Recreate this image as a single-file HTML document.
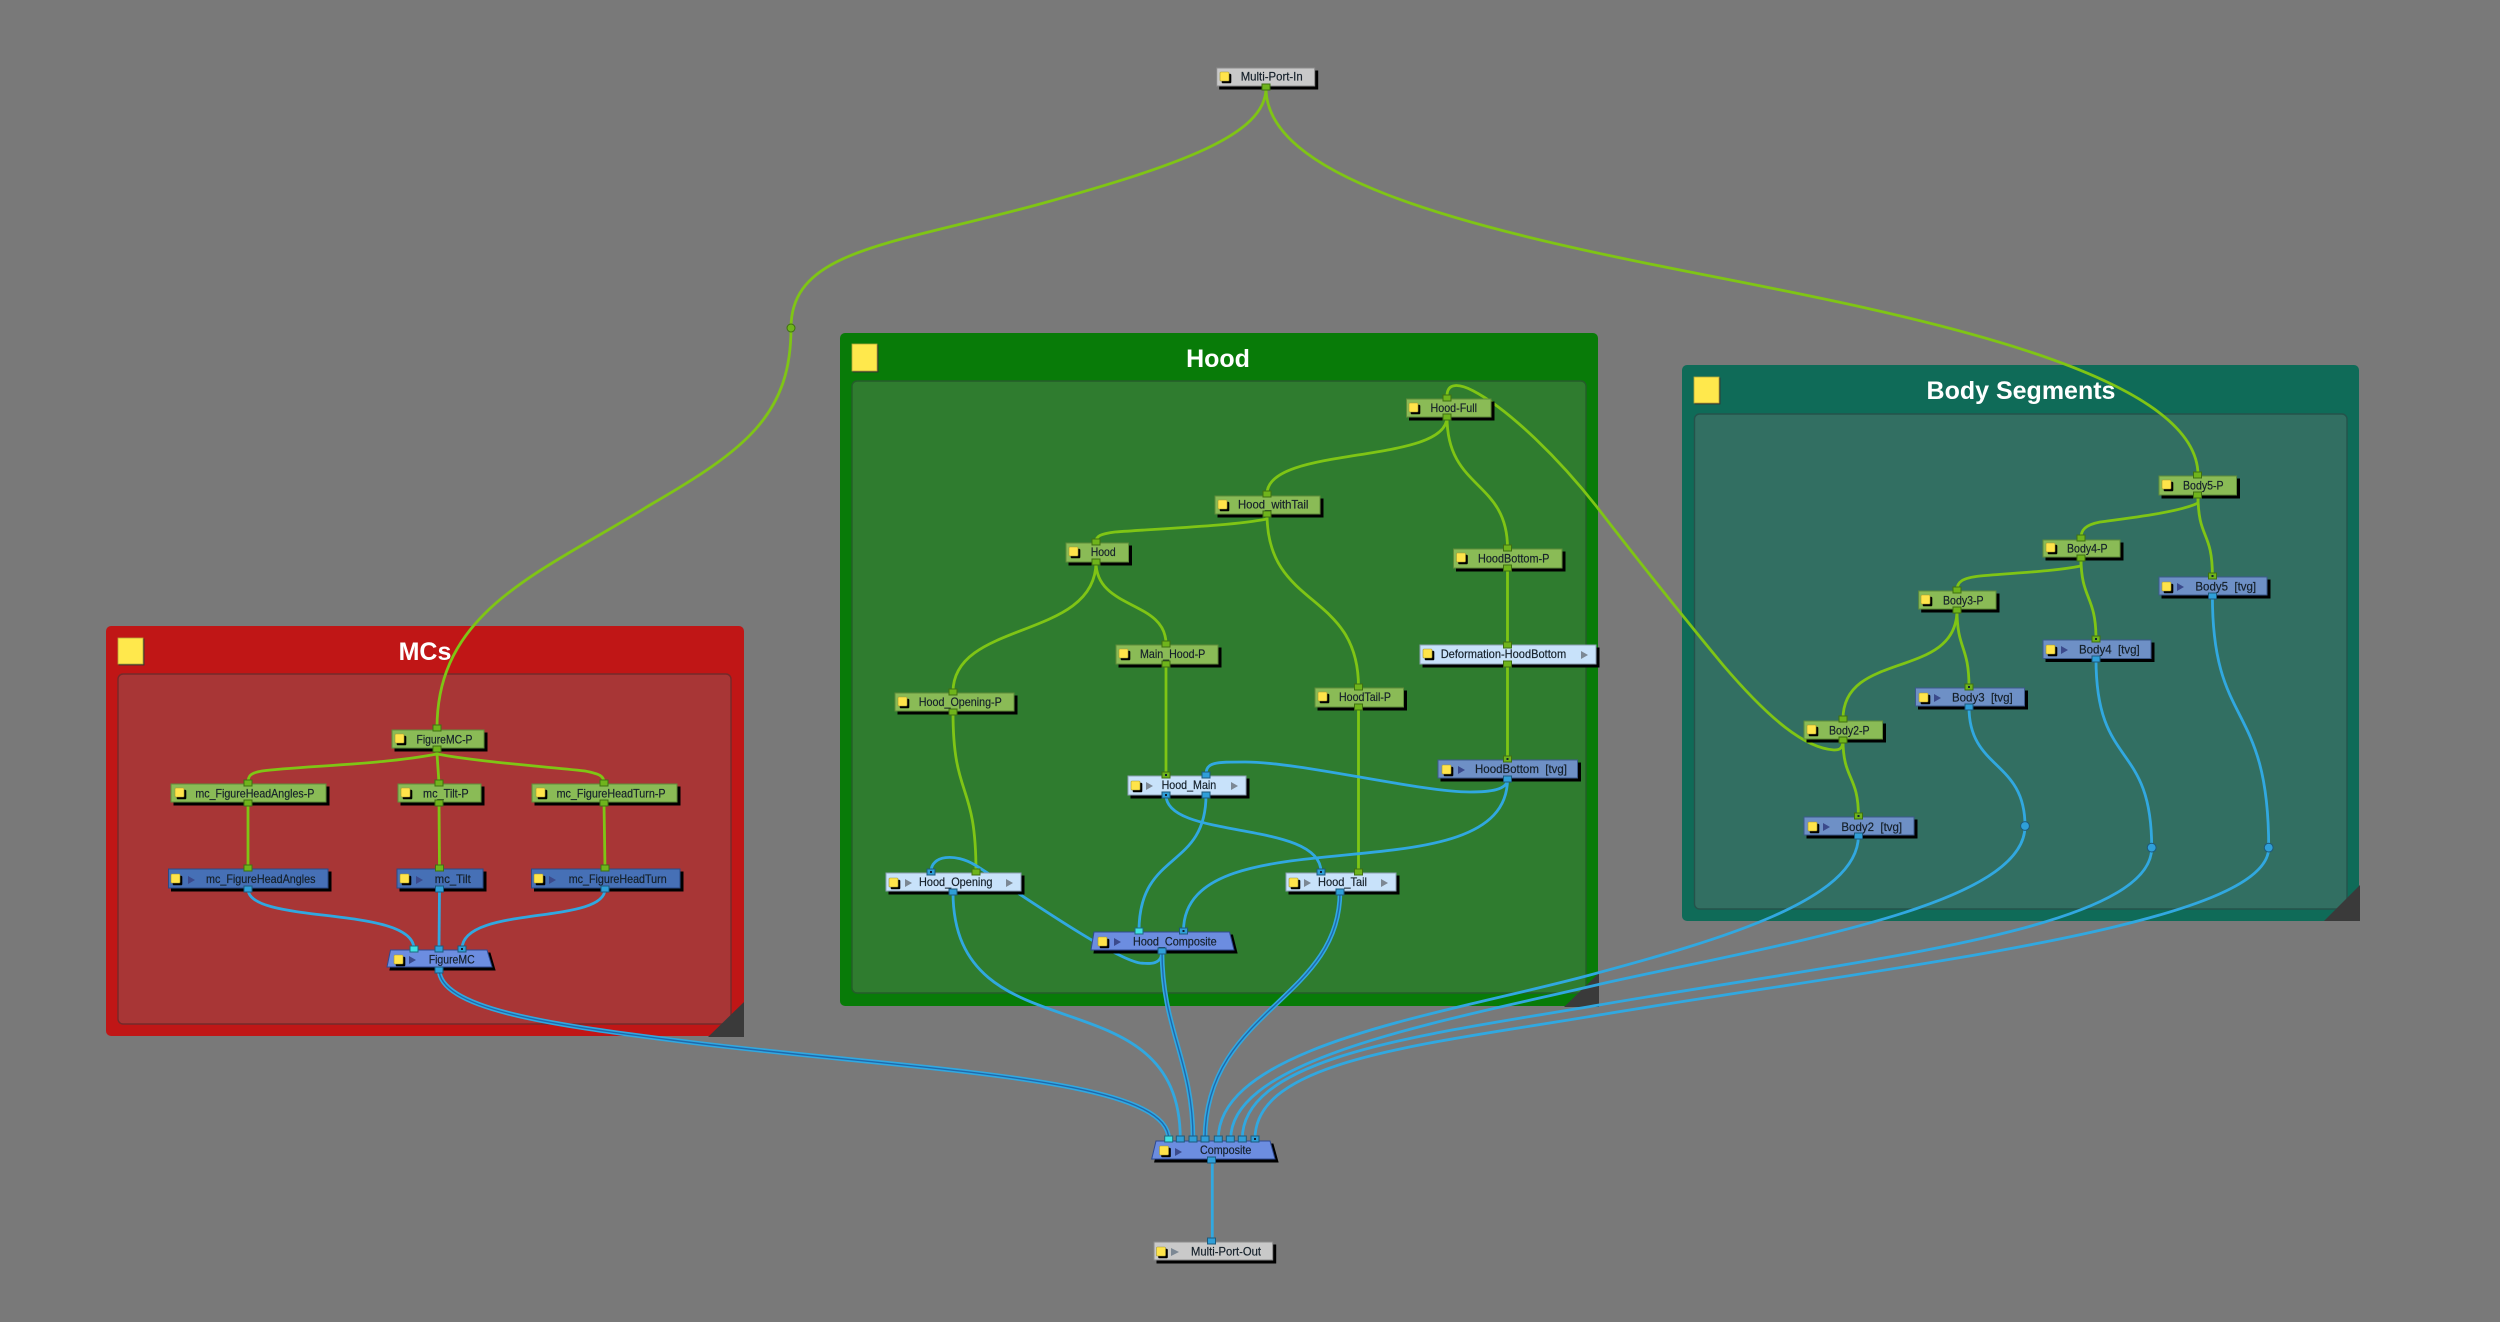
<!DOCTYPE html>
<html><head><meta charset="utf-8"><style>
html,body{margin:0;padding:0;background:#797979}
svg{display:block}
text{font-family:"Liberation Sans",sans-serif;font-size:11.8px;fill:#15202a;stroke:#15202a;stroke-width:.18}
.t{font-size:25px;font-weight:bold;fill:#fff;stroke:none;text-anchor:middle}
.eg{stroke:#7fc515;stroke-width:2.8;fill:none}
.eb{stroke:#31a8e0;stroke-width:2.8;fill:none}
.ew{stroke:#31a8e0;stroke-width:4.6;fill:none}
.ec{stroke:#1f68ac;stroke-width:1.4;fill:none}
.n{filter:drop-shadow(3px 3px 0 #000);stroke-width:1}
.g{fill:#8abb56;stroke:#5f8d3a}
.b{fill:#4670b6;stroke:#2b4a86}
.v{fill:#6e90c6;stroke:#3c5a8c}
.l{fill:#c8e2fa;stroke:#8ca0b4}
.w{fill:#c9c9c9;stroke:#8a8a8a}
.c{fill:#6c8de0;stroke:#2f4a92}
.q{fill:#ffe44a;stroke:#a89a30;stroke-width:.6;width:9px;height:9px;rx:1px;filter:drop-shadow(2px 2px 0 #000)}
.Q{fill:#ffe84c;stroke:#b8a838;stroke-width:.8;filter:drop-shadow(1.5px 1.5px 0 #333)}
.p{width:8px;height:6px;stroke-width:1}
.pg{fill:#6fb41c;stroke:#3f7012}
.pb{fill:#2f9fd8;stroke:#1d5a7c}
.pc{fill:#3fe2e2;stroke:#1d6a7c}
.d{width:2px;height:2px;fill:#123}
.a{fill:#3b4a8c}
.ag{fill:#7c8894}
</style></head><body>
<svg width="2500" height="1322" viewBox="0 0 2500 1322" xmlns="http://www.w3.org/2000/svg">
<rect width="2500" height="1322" fill="#797979"/>

<!-- backdrops -->
<rect x="106" y="626" width="638" height="410" rx="5" fill="#c01616"/>
<rect x="118" y="674" width="613" height="350" rx="5" fill="#a83636" stroke="#742a2a" stroke-width="1.4"/>
<polygon points="744,1002 744,1037 708,1037" fill="#3a3a3a"/>
<rect class="Q" x="118" y="638" width="25" height="26"/>
<text class="t" x="425" y="660">MCs</text>

<rect x="840" y="333" width="758" height="673" rx="5" fill="#087b08"/>
<rect x="852" y="381" width="734" height="612" rx="5" fill="#2f7c2f" stroke="#255c2a" stroke-width="1.4"/>
<polygon points="1599,973 1599,1007 1564,1007" fill="#3a3a3a"/>
<rect class="Q" x="852" y="344" width="25" height="27"/>
<text class="t" x="1218" y="367">Hood</text>

<rect x="1682" y="365" width="677" height="556" rx="5" fill="#0f6b58"/>
<rect x="1694.500" y="414" width="652.500" height="495" rx="5" fill="#326f62" stroke="#25534b" stroke-width="1.4"/>
<polygon points="2360,885 2360,921 2324,921" fill="#3a3a3a"/>
<rect class="Q" x="1694" y="377" width="25" height="26"/>
<text class="t" x="2021" y="399">Body Segments</text>

<!-- green edges -->
<g>
<path class="eg" d="M1266,88 C1266,135 1180,165 1040,204 C890,245 791,250 791,328 C791,415 745,450 650,505 C540,573 437,610 437,728"/>
<path class="eg" d="M1266,88 C1266,175 1450,225 1690,272 C1900,313 2198,370 2198,475"/>
<path class="eg" d="M437,749 V754 C380,765 300,766 262,771 C250,773 248,776 248,783"/>
<path class="eg" d="M437,749 V754 L439,783"/>
<path class="eg" d="M437,749 V754 C480,762 540,766 585,771 C600,774 604,776 604,783"/>
<path class="eg" d="M248,803 V868"/>
<path class="eg" d="M439,803 L439.500,868"/>
<path class="eg" d="M604,803 L605,868"/>
<path class="eg" d="M1447,417 C1447,465 1267,445 1267,494"/>
<path class="eg" d="M1447,417 C1447,490 1507.500,480 1507.500,548"/>
<path class="eg" d="M1267,514 V519 C1230,526 1170,528 1115,532 C1100,534 1096,536 1096,542"/>
<path class="eg" d="M1267,514 C1267,610 1358.500,590 1358.500,687"/>
<path class="eg" d="M1096,562 C1096,640 953,620 953,692"/>
<path class="eg" d="M1096,562 C1096,610 1166,600 1166,644"/>
<path class="eg" d="M1507.500,568 V645"/>
<path class="eg" d="M1507.500,664 V759"/>
<path class="eg" d="M1166,664 V775"/>
<path class="eg" d="M953,712 C953,800 976,780 976,872"/>
<path class="eg" d="M1358.500,707 V872"/>
<path class="eg" d="M1843,740 C1843,750 1838,750 1834,750 C1805,748 1770,720 1723,665 C1690,625 1640,563 1596.700,506.700 C1560,460 1510,410 1473,390.700 C1460,384 1447,382 1447,396"/>
<path class="eg" d="M2198,495 V503 C2180,512 2130,518 2100,522 C2085,525 2081,530 2081,538"/>
<path class="eg" d="M2198,495 C2198,540 2212.400,530 2212.400,576"/>
<path class="eg" d="M2081,558 V566 C2050,572 2010,573 1980,576 C1962,578 1957,582 1957,590"/>
<path class="eg" d="M2081,558 C2081,600 2096,595 2096,639"/>
<path class="eg" d="M1957,610 C1957,680 1843,650 1843,719"/>
<path class="eg" d="M1957,610 C1957,650 1969,645 1969,687"/>
<path class="eg" d="M1843,740 C1843,780 1858.400,775 1858.400,816"/>
</g>

<!-- blue edges -->
<g>
<path class="eb" d="M248,889 C248,925 414,905 414,949"/>
<path class="eb" d="M439.500,889 L439,949"/>
<path class="eb" d="M605,889 C605,925 462,905 462,949"/>
<path class="eb" d="M953,892 C953,1060 1180.300,970 1180.300,1139"/>
<path class="eb" d="M1162,951 C1162,965 1150,964 1140,963 C1110,958 1000,880 975,865 C955,853 931,855 931,872"/>
<path class="eb" d="M1166,795 C1166,840 1321,820 1321,872"/>
<path class="eb" d="M1206,795 C1206,870 1139,850 1139,931"/>
<path class="eb" d="M1507.500,779 C1507.500,790 1490,792 1470,792 C1420,792 1300,762 1245,762 C1215,762 1206,762 1206,775"/>
<path class="eb" d="M1507.500,779 C1507.500,900 1183.500,810 1183.500,931"/>
<path class="eb" d="M2212.400,596 C2212.400,730 2268.700,700 2268.700,847.600 C2269,925 1900,965 1599,1015 C1420,1045 1255,1060 1255,1139"/>
<path class="eb" d="M2096,659 C2096,770 2151.700,740 2151.700,847.600 C2152,930 1860,960 1599,1005 C1430,1034 1242.300,1055 1242.300,1139"/>
<path class="eb" d="M1969,707 C1969,770 2025,760 2025,826 C2025,905 1790,942 1605,983 C1440,1022 1230.700,1058 1230.700,1139"/>
<path class="eb" d="M1858.400,836 C1858,900 1720,940 1590,975 C1450,1013 1218.300,1045 1218.300,1139"/>
<path class="eb" d="M1212.300,1160 V1241"/>
<path class="ew" d="M439,969 C439,1008 545,1024 672,1040 C900,1070 1168.700,1075 1168.700,1139"/>
<path class="ec" d="M439,969 C439,1008 545,1024 672,1040 C900,1070 1168.700,1075 1168.700,1139"/>
<path class="ew" d="M1162,951 C1162,1030 1193,1060 1193,1139"/>
<path class="ec" d="M1162,951 C1162,1030 1193,1060 1193,1139"/>
<path class="ew" d="M1340,892 C1340,1000 1205,1010 1205,1139"/>
<path class="ec" d="M1340,892 C1340,1000 1205,1010 1205,1139"/>
</g>

<!-- waypoints -->
<circle cx="791" cy="328" r="4" fill="#6fb41c" stroke="#3f7012"/>
<circle cx="2025" cy="826" r="4.400" fill="#2f9fd8" stroke="#1d5a7c"/>
<circle cx="2151.700" cy="847.600" r="4.400" fill="#2f9fd8" stroke="#1d5a7c"/>
<circle cx="2268.700" cy="847.600" r="4.400" fill="#2f9fd8" stroke="#1d5a7c"/>

<!-- nodes: MCs -->
<rect class="n g" x="392" y="730" width="92" height="18"/><rect class="q" x="395" y="734"/>
<text x="416.500" y="743.300" textLength="56" lengthAdjust="spacingAndGlyphs">FigureMC-P</text>
<rect class="n g" x="171" y="784" width="155" height="18"/><rect class="q" x="175" y="788"/>
<text x="195.400" y="797.700" textLength="119" lengthAdjust="spacingAndGlyphs">mc_FigureHeadAngles-P</text>
<rect class="n g" x="398" y="784" width="83" height="18"/><rect class="q" x="401" y="788"/>
<text x="423" y="797.700" textLength="45.600" lengthAdjust="spacingAndGlyphs">mc_Tilt-P</text>
<rect class="n g" x="532" y="784" width="145" height="18"/><rect class="q" x="536" y="788"/>
<text x="556.600" y="797.700" textLength="109" lengthAdjust="spacingAndGlyphs">mc_FigureHeadTurn-P</text>
<rect class="n b" x="168.500" y="869" width="159.500" height="19"/><rect class="q" x="171" y="874"/><polygon class="a" points="188,876 195,880 188,884"/>
<text x="206" y="883" textLength="109.500" lengthAdjust="spacingAndGlyphs">mc_FigureHeadAngles</text>
<rect class="n b" x="397" y="869" width="86" height="19"/><rect class="q" x="400" y="874"/><polygon class="a" points="416,876 423,880 416,884"/>
<text x="434.800" y="883" textLength="36" lengthAdjust="spacingAndGlyphs">mc_Tilt</text>
<rect class="n b" x="531.500" y="869" width="148.500" height="19"/><rect class="q" x="534" y="874"/><polygon class="a" points="549,876 556,880 549,884"/>
<text x="568.700" y="883" textLength="98" lengthAdjust="spacingAndGlyphs">mc_FigureHeadTurn</text>
<polygon class="n c" points="390.500,950 487,950 492,967 387,967"/><rect class="q" x="394" y="955"/><polygon class="a" points="409,956 416,960 409,964"/>
<text x="428.700" y="963.700" textLength="46" lengthAdjust="spacingAndGlyphs">FigureMC</text>

<!-- nodes: Hood -->
<rect class="n g" x="1406.500" y="399" width="84.500" height="18"/><rect class="q" x="1409" y="403"/>
<text x="1430.500" y="412" textLength="46.500" lengthAdjust="spacingAndGlyphs">Hood-Full</text>
<rect class="n g" x="1215" y="496" width="105" height="18"/><rect class="q" x="1218" y="500"/>
<text x="1238" y="508.700" textLength="70.400" lengthAdjust="spacingAndGlyphs">Hood_withTail</text>
<rect class="n g" x="1066" y="543" width="62.500" height="19"/><rect class="q" x="1069" y="547"/>
<text x="1090.700" y="556" textLength="25" lengthAdjust="spacingAndGlyphs">Hood</text>
<rect class="n g" x="1116" y="645" width="102" height="19"/><rect class="q" x="1119" y="649"/>
<text x="1140" y="658" textLength="65.300" lengthAdjust="spacingAndGlyphs">Main_Hood-P</text>
<rect class="n g" x="895" y="693" width="119" height="18"/><rect class="q" x="898" y="697"/>
<text x="918.800" y="706" textLength="83" lengthAdjust="spacingAndGlyphs">Hood_Opening-P</text>
<rect class="n g" x="1315" y="688" width="88.500" height="19"/><rect class="q" x="1318" y="692"/>
<text x="1339" y="701" textLength="52" lengthAdjust="spacingAndGlyphs">HoodTail-P</text>
<rect class="n g" x="1453.500" y="549" width="108.500" height="19"/><rect class="q" x="1456.500" y="553"/>
<text x="1478" y="562.300" textLength="71.400" lengthAdjust="spacingAndGlyphs">HoodBottom-P</text>
<rect class="n l" x="1420" y="645" width="176" height="19"/><rect class="q" x="1423" y="649"/><polygon class="ag" points="1581,651 1588,655 1581,659"/>
<text x="1440.700" y="658" textLength="125.500" lengthAdjust="spacingAndGlyphs">Deformation-HoodBottom</text>
<rect class="n l" x="1128" y="776" width="118" height="19"/><rect class="q" x="1131" y="781"/><polygon class="ag" points="1146,782 1153,786 1146,790"/><polygon class="ag" points="1231,782 1238,786 1231,790"/>
<text x="1161.600" y="789" textLength="54.600" lengthAdjust="spacingAndGlyphs">Hood_Main</text>
<rect class="n v" x="1438" y="760" width="139.500" height="18"/><rect class="q" x="1442" y="765"/><polygon class="a" points="1458,766 1465,770 1458,774"/>
<text x="1475" y="773" textLength="92" lengthAdjust="spacingAndGlyphs" xml:space="preserve">HoodBottom  [tvg]</text>
<rect class="n l" x="886" y="873" width="135" height="18"/><rect class="q" x="889" y="878"/><polygon class="ag" points="905,879 912,883 905,887"/><polygon class="ag" points="1006,879 1013,883 1006,887"/>
<text x="919" y="886" textLength="73.500" lengthAdjust="spacingAndGlyphs">Hood_Opening</text>
<rect class="n l" x="1286" y="873" width="110" height="18"/><rect class="q" x="1289" y="878"/><polygon class="ag" points="1304,879 1311,883 1304,887"/><polygon class="ag" points="1381,879 1388,883 1381,887"/>
<text x="1318" y="886" textLength="49" lengthAdjust="spacingAndGlyphs">Hood_Tail</text>
<polygon class="n c" points="1094,932 1229.500,932 1234,950 1091,950"/><rect class="q" x="1098" y="937"/><polygon class="a" points="1114,938 1121,942 1114,946"/>
<text x="1133" y="945.700" textLength="83.700" lengthAdjust="spacingAndGlyphs">Hood_Composite</text>

<!-- nodes: Body -->
<rect class="n g" x="2159" y="476" width="77.500" height="19"/><rect class="q" x="2162" y="480"/>
<text x="2183" y="489.500" textLength="40.600" lengthAdjust="spacingAndGlyphs">Body5-P</text>
<rect class="n g" x="2043" y="540" width="77" height="17"/><rect class="q" x="2046" y="543"/>
<text x="2067" y="552.700" textLength="40.600" lengthAdjust="spacingAndGlyphs">Body4-P</text>
<rect class="n g" x="1918.700" y="591" width="77.300" height="18"/><rect class="q" x="1921" y="595"/>
<text x="1943" y="604.500" textLength="40.600" lengthAdjust="spacingAndGlyphs">Body3-P</text>
<rect class="n g" x="1804" y="721" width="78.500" height="18"/><rect class="q" x="1807" y="725"/>
<text x="1829" y="734.400" textLength="40.600" lengthAdjust="spacingAndGlyphs">Body2-P</text>
<rect class="n v" x="2159" y="577" width="108" height="18"/><rect class="q" x="2162" y="582"/><polygon class="a" points="2177,583 2184,587 2177,591"/>
<text x="2195.400" y="590.500" textLength="60.700" lengthAdjust="spacingAndGlyphs" xml:space="preserve">Body5  [tvg]</text>
<rect class="n v" x="2043" y="640" width="108" height="18.500"/><rect class="q" x="2046" y="645"/><polygon class="a" points="2061,646 2068,650 2061,654"/>
<text x="2079" y="653.700" textLength="60.700" lengthAdjust="spacingAndGlyphs" xml:space="preserve">Body4  [tvg]</text>
<rect class="n v" x="1915.500" y="688" width="109" height="18"/><rect class="q" x="1919" y="693"/><polygon class="a" points="1934,694 1941,698 1934,702"/>
<text x="1952" y="701.500" textLength="60.700" lengthAdjust="spacingAndGlyphs" xml:space="preserve">Body3  [tvg]</text>
<rect class="n v" x="1804" y="817" width="110" height="18"/><rect class="q" x="1808" y="822"/><polygon class="a" points="1823,823 1830,827 1823,831"/>
<text x="1841.400" y="831" textLength="60.700" lengthAdjust="spacingAndGlyphs" xml:space="preserve">Body2  [tvg]</text>

<!-- nodes: root -->
<rect class="n w" x="1216.700" y="68" width="98" height="18"/><rect class="q" x="1220" y="72"/>
<text x="1240.700" y="80.300" textLength="62" lengthAdjust="spacingAndGlyphs">Multi-Port-In</text>
<polygon class="n c" points="1156,1141 1270,1141 1275,1159 1151.700,1159"/><rect class="q" x="1159.500" y="1146"/><polygon class="a" points="1175,1148 1182,1152 1175,1156"/>
<text x="1200" y="1154" textLength="51.300" lengthAdjust="spacingAndGlyphs">Composite</text>
<rect class="n w" x="1154" y="1242" width="118.700" height="18"/><rect class="q" x="1156.500" y="1247"/><polygon class="ag" points="1171,1248 1179,1252 1171,1256"/>
<text x="1191" y="1255.700" textLength="70" lengthAdjust="spacingAndGlyphs">Multi-Port-Out</text>

<!-- green ports -->
<g class="pg" transform="translate(-.5,0)">
<rect class="p" x="1262.500" y="84"/>
<rect class="p" x="433.500" y="725"/><rect class="p" x="433.500" y="746"/>
<rect class="p" x="244.500" y="780"/><rect class="p" x="244.500" y="800"/>
<rect class="p" x="435.500" y="780"/><rect class="p" x="435.500" y="800"/>
<rect class="p" x="600.500" y="780"/><rect class="p" x="600.500" y="800"/>
<rect class="p" x="244.500" y="865"/><rect class="p" x="436" y="865"/><rect class="p" x="601.500" y="865"/>
<rect class="p" x="1443.500" y="395"/><rect class="p" x="1443.500" y="414"/>
<rect class="p" x="1263.500" y="491"/><rect class="p" x="1263.500" y="511"/>
<rect class="p" x="1092.500" y="539"/><rect class="p" x="1092.500" y="559"/>
<rect class="p" x="1162.500" y="641"/><rect class="p" x="1162.500" y="661"/>
<rect class="p" x="949.500" y="689"/><rect class="p" x="949.500" y="709"/>
<rect class="p" x="1355" y="684"/><rect class="p" x="1355" y="704"/>
<rect class="p" x="1504" y="545"/><rect class="p" x="1504" y="565"/>
<rect class="p" x="1504" y="642"/><rect class="p" x="1504" y="661"/>
<rect class="p" x="1162.500" y="772"/><rect class="p" x="1504" y="756"/>
<rect class="p" x="972.500" y="869"/><rect class="p" x="1355" y="869"/>
<rect class="p" x="2194" y="472"/><rect class="p" x="2194" y="492"/>
<rect class="p" x="2077.500" y="535"/><rect class="p" x="2077.500" y="555"/>
<rect class="p" x="1953.500" y="587"/><rect class="p" x="1953.500" y="607"/>
<rect class="p" x="1839.500" y="716"/><rect class="p" x="1839.500" y="737"/>
<rect class="p" x="2209" y="573"/><rect class="p" x="2092.500" y="636"/><rect class="p" x="1965.500" y="684"/><rect class="p" x="1855" y="813"/>
</g>
<!-- blue ports -->
<g class="pb" transform="translate(-.5,0)">
<rect class="p" x="244.500" y="886"/><rect class="p" x="436" y="886"/><rect class="p" x="601.500" y="886"/>
<rect class="p" x="435.500" y="946"/><rect class="p" x="458.500" y="946"/><rect class="p" x="435.500" y="967"/>
<rect class="p" x="1162.500" y="792"/><rect class="p" x="1202.500" y="772"/><rect class="p" x="1202.500" y="792"/>
<rect class="p" x="1504" y="776"/>
<rect class="p" x="927.500" y="869"/><rect class="p" x="949.500" y="889"/>
<rect class="p" x="1317.500" y="869"/><rect class="p" x="1336.500" y="889"/>
<rect class="p" x="1180" y="928"/><rect class="p" x="1158.500" y="948"/>
<rect class="p" x="2209" y="593"/><rect class="p" x="2092.500" y="656"/><rect class="p" x="1965.500" y="704"/><rect class="p" x="1855" y="833"/>
<rect class="p" x="1176.800" y="1136"/><rect class="p" x="1189.500" y="1136"/><rect class="p" x="1201.500" y="1136"/><rect class="p" x="1214.800" y="1136"/><rect class="p" x="1226.800" y="1136"/><rect class="p" x="1238.800" y="1136"/><rect class="p" x="1251.500" y="1136"/>
<rect class="p" x="1208" y="1157"/><rect class="p" x="1208" y="1238"/>
</g>
<g class="pc" transform="translate(-.5,0)">
<rect class="p" x="410.500" y="946"/><rect class="p" x="1135.500" y="928"/><rect class="p" x="1165.200" y="1136"/>
</g>
<!-- port centre dots -->
<rect class="d" x="461" y="948"/><rect class="d" x="1165" y="774"/><rect class="d" x="1165" y="794"/><rect class="d" x="930" y="871"/><rect class="d" x="1320" y="871"/><rect class="d" x="1182.500" y="930"/><rect class="d" x="1506.500" y="758"/><rect class="d" x="2211.500" y="575"/><rect class="d" x="2095" y="638"/><rect class="d" x="1968" y="686"/><rect class="d" x="1857.500" y="815"/><rect class="d" x="1254" y="1138"/>
</svg>
</body></html>
